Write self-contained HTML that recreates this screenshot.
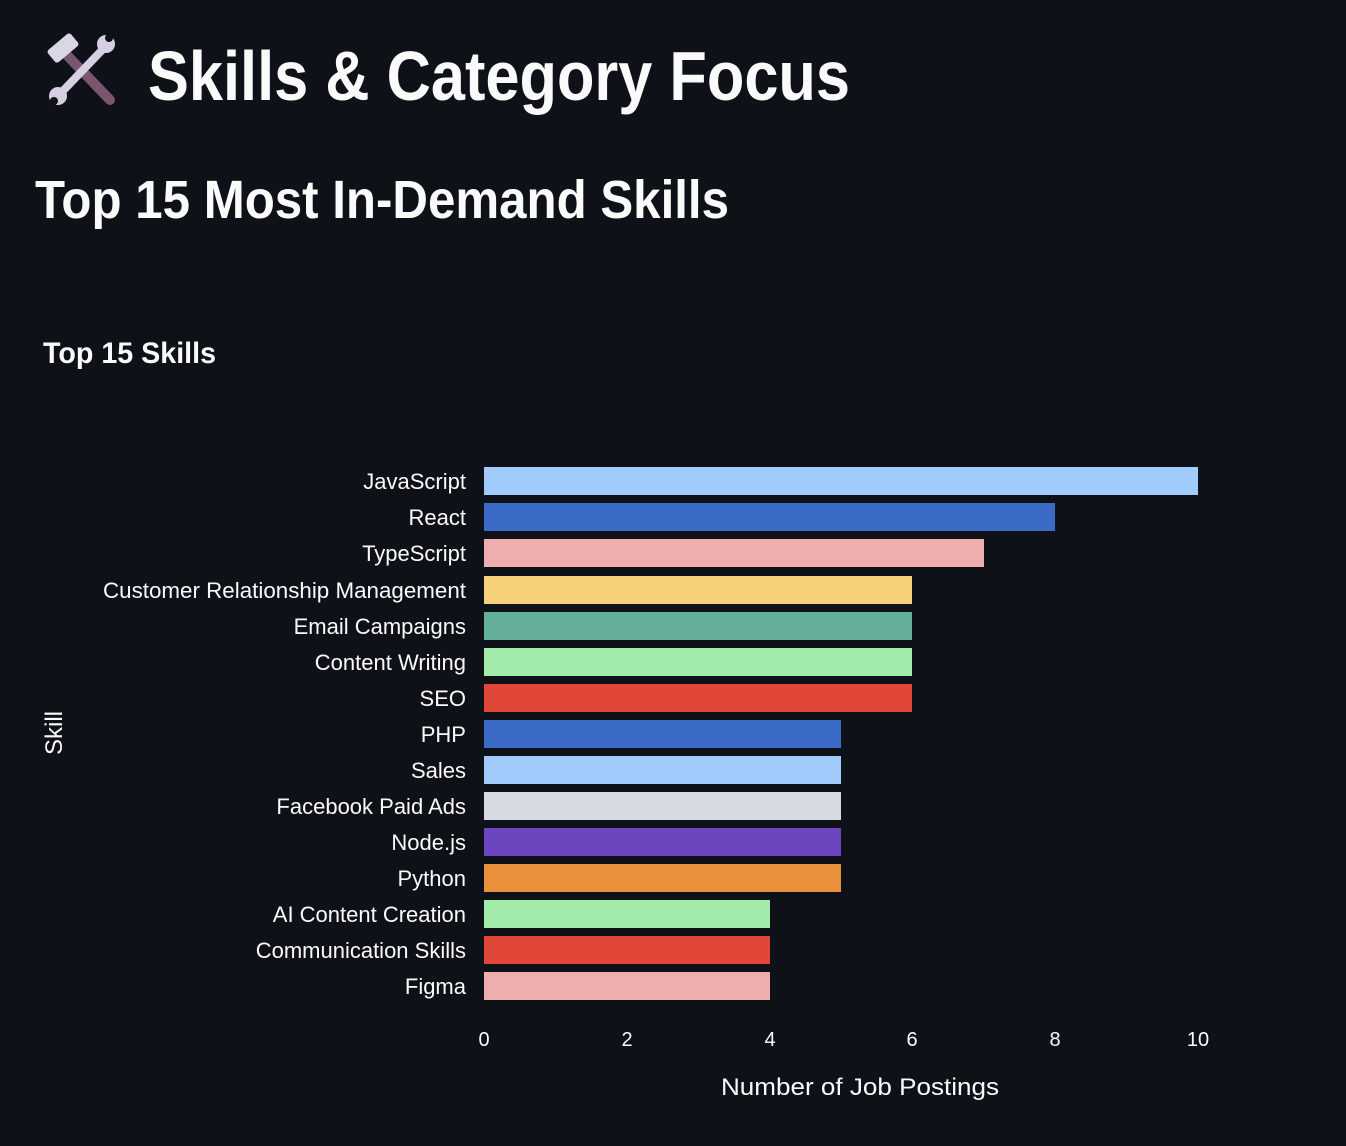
<!DOCTYPE html>
<html><head><meta charset="utf-8"><style>
html,body{margin:0;padding:0;background:#0e1117;}
svg{display:block;}
text{font-family:"Liberation Sans",sans-serif;fill:#fafafa;}
</style></head><body>
<svg width="1346" height="1146" viewBox="0 0 1346 1146">
<rect width="1346" height="1146" fill="#0e1117"/>
<!-- icon -->
<g>
<line x1="62" y1="50" x2="110" y2="100" stroke="#7a5570" stroke-width="10" stroke-linecap="round"/>
<rect x="48" y="40" width="30" height="16" rx="3" fill="#d9d6e6" transform="rotate(-40 63 48)"/>
<line x1="58" y1="96" x2="106" y2="46" stroke="#d4d0e2" stroke-width="8" stroke-linecap="round"/>
<circle cx="106" cy="44" r="9" fill="#d4d0e2"/><circle cx="109" cy="38" r="4" fill="#0e1117"/>
<circle cx="58" cy="96" r="9" fill="#d4d0e2"/><circle cx="54" cy="101" r="4" fill="#0e1117"/>
</g>
<text x="148" y="100" font-size="70" font-weight="bold" textLength="702" lengthAdjust="spacingAndGlyphs">Skills &amp; Category Focus</text>
<text x="35" y="218" font-size="54" font-weight="bold" textLength="694" lengthAdjust="spacingAndGlyphs">Top 15 Most In-Demand Skills</text>
<text x="43" y="363" font-size="30" font-weight="bold" textLength="173" lengthAdjust="spacingAndGlyphs">Top 15 Skills</text>
<g id="bars"></g>
<g font-size="22">
<rect x="484" y="467" width="714" height="28" fill="#a0cbfa"/>
<rect x="484" y="503" width="571" height="28" fill="#3b6bc7"/>
<rect x="484" y="539" width="500" height="28" fill="#eeaeae"/>
<rect x="484" y="576" width="428" height="28" fill="#f5d27a"/>
<rect x="484" y="612" width="428" height="28" fill="#64ae9a"/>
<rect x="484" y="648" width="428" height="28" fill="#a3ebaa"/>
<rect x="484" y="684" width="428" height="28" fill="#e04739"/>
<rect x="484" y="720" width="357" height="28" fill="#3b6bc7"/>
<rect x="484" y="756" width="357" height="28" fill="#a0cbfa"/>
<rect x="484" y="792" width="357" height="28" fill="#d6dae2"/>
<rect x="484" y="828" width="357" height="28" fill="#6b46bf"/>
<rect x="484" y="864" width="357" height="28" fill="#e8913a"/>
<rect x="484" y="900" width="286" height="28" fill="#a3ebaa"/>
<rect x="484" y="936" width="286" height="28" fill="#e04739"/>
<rect x="484" y="972" width="286" height="28" fill="#eeaeae"/>
</g>
<g font-size="22" text-anchor="end">
<text x="466" y="489">JavaScript</text>
<text x="466" y="525">React</text>
<text x="466" y="561">TypeScript</text>
<text x="466" y="598" textLength="363" lengthAdjust="spacingAndGlyphs">Customer Relationship Management</text>
<text x="466" y="634">Email Campaigns</text>
<text x="466" y="670">Content Writing</text>
<text x="466" y="706">SEO</text>
<text x="466" y="742">PHP</text>
<text x="466" y="778">Sales</text>
<text x="466" y="814">Facebook Paid Ads</text>
<text x="466" y="850">Node.js</text>
<text x="466" y="886">Python</text>
<text x="466" y="922">AI Content Creation</text>
<text x="466" y="958">Communication Skills</text>
<text x="466" y="994">Figma</text>
</g>
<g font-size="20" text-anchor="middle">
<text x="484" y="1046">0</text>
<text x="627" y="1046">2</text>
<text x="770" y="1046">4</text>
<text x="912" y="1046">6</text>
<text x="1055" y="1046">8</text>
<text x="1198" y="1046">10</text>
</g>
<text x="860" y="1095" font-size="24" text-anchor="middle" textLength="278" lengthAdjust="spacingAndGlyphs">Number of Job Postings</text>
<text x="0" y="0" font-size="24" text-anchor="middle" transform="translate(62 733) rotate(-90)">Skill</text>
</svg>
</body></html>
